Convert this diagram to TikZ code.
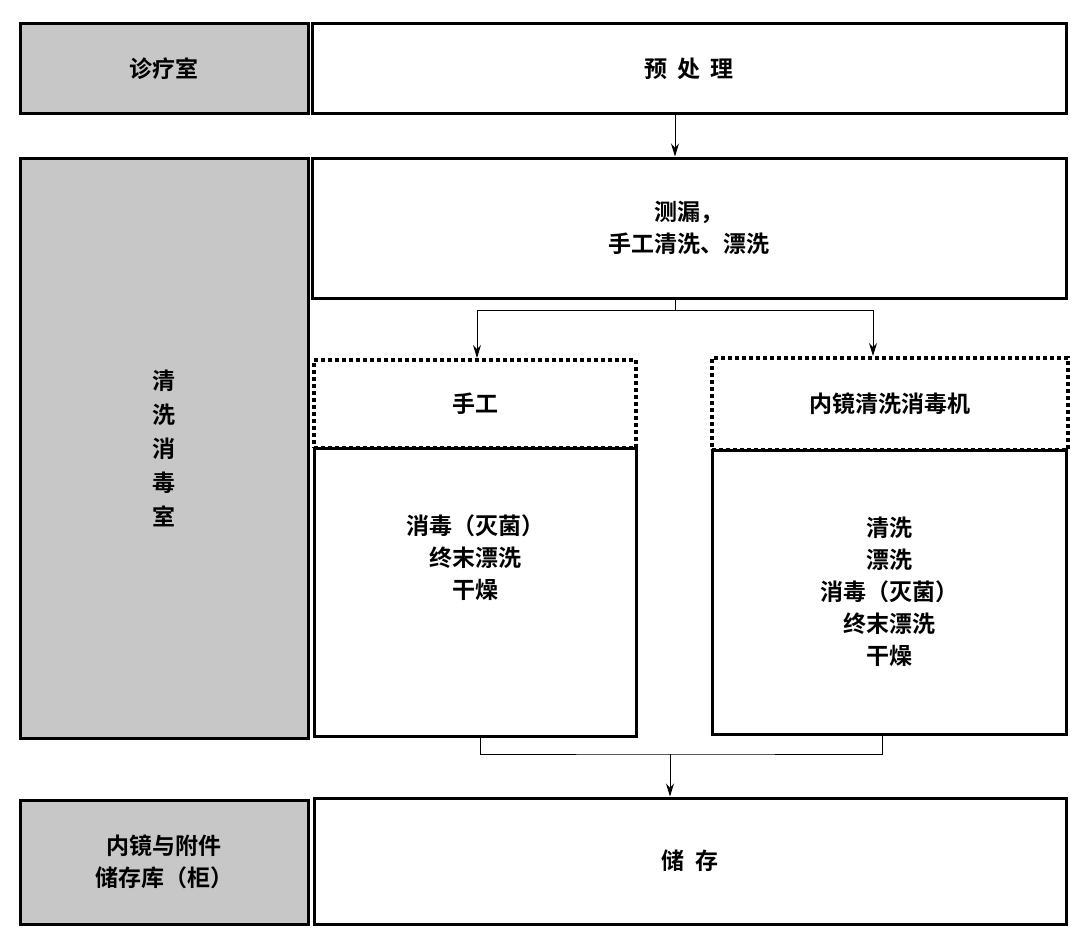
\documentclass[tikz,border=0pt]{standalone}
\usepackage{fontspec}
\setmainfont{Noto Sans CJK SC}
\newfontfamily\cjk{Noto Sans CJK SC Bold}
\usetikzlibrary{arrows.meta}
\begin{document}
\begin{tikzpicture}[x=1pt,y=-1pt,
  box/.style={draw,line width=3pt,inner sep=0pt,font=\cjk\fontsize{23}{32}\selectfont,align=center},
  gbox/.style={box,fill=black!22},
  dbox/.style={box,line width=4pt,dash pattern=on 4pt off 3pt},
  arr/.style={-{Stealth[length=13pt,width=8pt]},line width=1pt},
  ln/.style={line width=1pt}]
\useasboundingbox (0,0) rectangle (1080,934);
\node[gbox,minimum width=288,minimum height=90] (g1) at (164,69) {诊疗室};
\node[box,minimum width=754,minimum height=90] (p1) at (689,69) {预\ \ 处\ \ 理};
\node[gbox,minimum width=288,minimum height=580,font=\cjk\fontsize{23}{34}\selectfont] (g2) at (164,448) {清\\洗\\消\\毒\\室};
\node[box,minimum width=754,minimum height=140] (p2) at (689,228) {测漏，\\手工清洗、漂洗};
\node[dbox,minimum width=322,minimum height=88] (m1) at (475,404) {手工};
\node[box,minimum width=322,minimum height=288] (m2) at (475,592) {消毒（灭菌）\\终末漂洗\\干燥\\[38pt]};
\node[dbox,minimum width=356,minimum height=92] (a1) at (890,404) {内镜清洗消毒机};
\node[box,minimum width=354,minimum height=284] (a2) at (889,592) {清洗\\漂洗\\消毒（灭菌）\\终末漂洗\\干燥};
\node[gbox,minimum width=288,minimum height=124] (g3) at (164,862) {内镜与附件\\储存库（柜）};
\node[box,minimum width=752,minimum height=126] (p3) at (690,861) {储\ \ 存};
\draw[arr] (675,114) -- (p2.north -| 675,0);
\coordinate (s) at (675,310);
\draw[ln] (p2.south -| s) -- (s);
\draw[arr] (s) -| (m1.north -| 477,0);
\draw[arr] (s) -| (a1.north -| 873,0);
\coordinate (b) at (670,754);
\draw[ln] (m2.south -| 480,0) |- (b) -| (a2.south -| 882,0);
\draw[arr] (b) -- (p3.north -| b);
\end{tikzpicture}
\end{document}
